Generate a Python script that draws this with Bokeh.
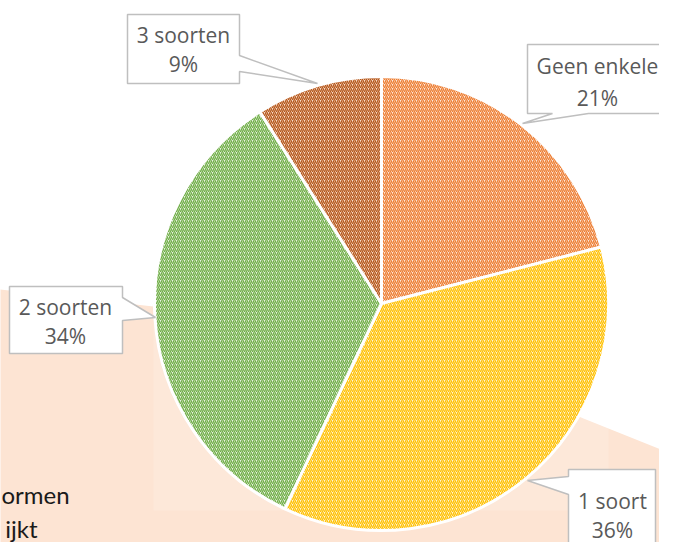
import numpy as np
from bokeh.plotting import figure
from bokeh.models import Range1d, ColumnDataSource
from bokeh.core.properties import value
from bokeh.embed import file_html
from bokeh.resources import INLINE

# ---- data ----
categories = ["Geen enkele", "1 soort", "2 soorten", "3 soorten"]
percentages = [21, 36, 34, 9]
stripe_colors = ["#ED7D31", "#FFC000", "#70AD47", "#B4561A"]
fill_colors = ["#FCE6D8", "#FFF4D4", "#E6F2DE", "#F7DAC6"]
side_text = ["ormen", "ijkt"]

WF, HF = 659, 542

def Y(y):
    return HF - y

p = figure(width=WF, height=HF, x_range=Range1d(0, WF), y_range=Range1d(0, HF),
           output_backend="svg", toolbar_location=None, min_border=0)
p.axis.visible = False
p.grid.visible = False
p.outline_line_color = None
p.background_fill_color = "white"
p.border_fill_color = "white"

# peach background shape
bx = [-10, 153, 400, 583, 700, 700, -10]
by = [288, 306, 340, 418, 465, 570, 570]
p.patch(bx, [Y(v) for v in by], fill_color="#FDE4D3", line_color=None)
# faint chart area
p.quad(left=153, right=608, top=Y(110), bottom=Y(510), fill_color="white",
       fill_alpha=0.15, line_color=None)

# side text
p.text(x=[1], y=[Y(494)], text=side_text[:1], text_font=value("Lato"),
       text_font_size="24px", text_color="#1A1A1A", text_align="left",
       text_baseline="middle")
p.text(x=[37], y=[Y(528)], text=side_text[1:], text_font=value("Lato"),
       text_font_size="24px", text_color="#1A1A1A", text_align="right",
       text_baseline="middle")

# pie
frac = np.array(percentages) / sum(percentages)
cum = np.concatenate([[0], np.cumsum(frac)])
start = np.pi / 2 - cum[1:] * 2 * np.pi
end = np.pi / 2 - cum[:-1] * 2 * np.pi
src = ColumnDataSource(dict(start=start, end=end, fill=fill_colors, hatch=stripe_colors))
p.wedge(x=381, y=Y(303), radius=227, start_angle="start", end_angle="end",
        fill_color="fill", hatch_color="hatch", hatch_pattern="/", hatch_scale=4,
        hatch_weight=1.35, line_color="white", line_width=3, source=src)

# callouts
callouts = [
    [(527, 44), (690, 44), (690, 113), (588, 113), (522, 123), (552, 113), (527, 113)],
    [(568, 469), (655, 469), (655, 570), (568, 570), (568, 494), (527, 480), (568, 476)],
    [(9, 286), (122, 286), (122, 297), (155, 317), (122, 320), (122, 353), (9, 353)],
    [(127, 14), (239, 14), (239, 55), (317, 83), (239, 71), (239, 83), (127, 83)],
]
p.patches([[q[0] for q in c] for c in callouts], [[Y(q[1]) for q in c] for c in callouts],
          fill_color="white", line_color="#BFBFBF", line_width=1.5)

label_x = [597, 612, 65, 183]
name_y = [65, 500, 306, 34]
pct_y = [97, 529, 335, 63]
p.text(x=label_x, y=[Y(v) for v in name_y], text=categories, text_font=value("Open Sans"),
       text_font_size="21px", text_color="#595959", text_align="center",
       text_baseline="middle")
p.text(x=label_x, y=[Y(v) for v in pct_y], text=[f"{v}%" for v in percentages],
       text_font=value("Open Sans"), text_font_size="21px", text_color="#595959",
       text_align="center", text_baseline="middle")

open("out.html", "w").write(file_html(p, INLINE))
